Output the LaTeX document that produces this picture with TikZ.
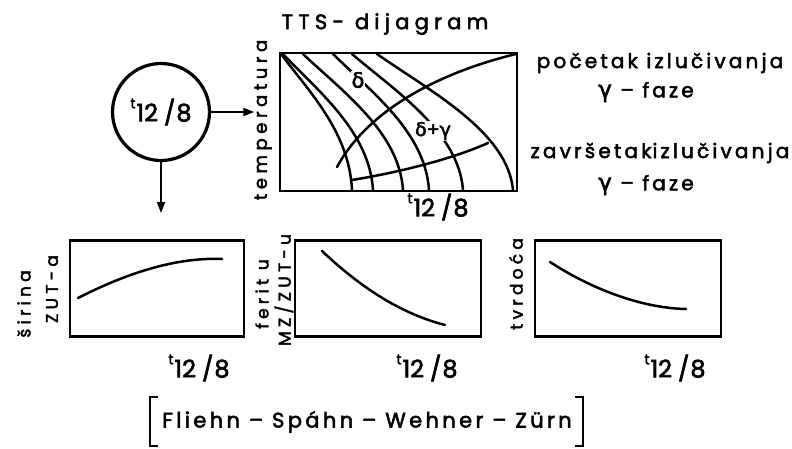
\documentclass[tikz,border=0pt]{standalone}
\usepackage{fontspec}
\setmainfont{Poppins}[LetterSpace=25,FakeBold=2.5]
\newfontfamily\tight{Poppins}[LetterSpace=16,FakeBold=2.5]
\newfontfamily\plain{Poppins}[FakeBold=2.5]
\newfontfamily\grk{DejaVu Sans}[FakeBold=2.5]
\usetikzlibrary{arrows.meta}
\newcommand\fs[1]{\fontsize{#1}{#1}\selectfont}
\newcommand\tlabel{\mbox{\raisebox{13pt}{\fs{14}t}\hspace{1pt}{\plain\fs{24}12\hspace{6pt}/\hspace{1pt}8}}}
\begin{document}
\begin{tikzpicture}[x=1pt,y=-1pt,line cap=round,
  frame/.style={draw,line width=2.4pt,inner sep=0pt},
  curve/.style={line width=2.5pt},
  lbl/.style={inner sep=0pt,font=\fs{18}},
  rtxt/.style={inner sep=0pt,font=\tight\fs{20}},
  arr/.style={line width=2pt,-{Triangle[length=11pt,width=8pt]}}]
\fill[white] (0,0) rectangle (792,448);
\useasboundingbox (0,0) rectangle (792,448);

% TTS diagram
\node[lbl,font=\fs{21}] (title) at (385,24) {TTS- dijagram};
\node[frame,minimum width=237pt,minimum height=138pt] (tts) at (398.5,122) {};
\node[lbl,rotate=90] (temp) at (263,120) {temperatura};
\draw[curve] (281,54) .. controls (309.4,92) and (349.2,132) .. (352,190);
\draw[curve] (283,54) .. controls (319,92) and (369.4,132) .. (373,190);
\draw[curve] (303,54) .. controls (343,92) and (399,132) .. (403,190);
\draw[curve] (333,54) .. controls (371.4,92) and (425.2,132) .. (429,190);
\draw[curve] (352,54) .. controls (396.4,92) and (458.6,132) .. (463,190);
\draw[curve] (377,54) .. controls (431.4,92) and (507.6,132) .. (513,190);
\draw[curve] (337,167) .. controls (365,115) and (430,75) .. (516,54);
\draw[curve] (352,180) .. controls (395,173) and (450,160) .. (488,143);
\node[fill=white,inner sep=1pt,font=\grk\fs{21}] (delta) at (358,80) {δ};
\node[fill=white,inner sep=0.5pt,font=\fs{19}] (dg) at (433,131) {{\grk δ}+{\grk γ}};
\node (t0) at (438,207) {\tlabel};

% right texts
\node[rtxt] (pocetak) at (660,63) {početak izlučivanja};
\node[rtxt] (gf1) at (646,92) {{\grk\fs{23}γ} – faze};
\node[rtxt] (zavrsetak) at (660,153) {završetak\hspace{1pt}izlučivanja};
\node[rtxt] (gf2) at (646,185) {{\grk\fs{23}γ} – faze};

% circle
\node[draw,circle,line width=3.2pt,minimum size=97pt,inner sep=0pt] (c) at (161,112) {\tlabel};
\coordinate (downend) at (161,213);
\draw[arr] (c.east) -- (c.east -| temp.north);
\draw[arr] (c.south) -- (downend);

% bottom boxes
\node[frame,minimum width=174pt,minimum height=96pt] (b1) at (157,288.5) {};
\node[frame,minimum width=186pt,minimum height=96pt] (b2) at (388,288.5) {};
\node[frame,minimum width=186pt,minimum height=96pt] (b3) at (628,288.5) {};
\draw[curve] (78,298) .. controls (125,274) and (175,257) .. (222,259);
\draw[curve] (322,251) .. controls (355,282) and (395,312) .. (445,325);
\draw[curve] (550,262) .. controls (590,288) and (640,308) .. (686,309);
\node[lbl,rotate=90,font=\fs{17}] (sirina) at (24,304) {širina};
\node[lbl,rotate=90,font=\fs{17}] (zuta) at (52,289) {ZUT-a};
\node[lbl,rotate=90,font=\fs{17}] (ferit) at (262,294) {ferit u};
\node[lbl,rotate=90,font=\fs{17}] (mz) at (284,290) {MZ/ZUT-u};
\node[lbl,rotate=90,font=\fs{17}] (tvrd) at (516,284) {tvrdoća};
\node (t1) at (199,368) {\tlabel};
\node (t2) at (427,368) {\tlabel};
\node (t3) at (675,368) {\tlabel};

% citation
\node[font=\tight\fs{21}] (cite) at (367,422) {Fliehn – Spáhn – Wehner – Zürn};
\coordinate (lbt) at (150,397);
\coordinate (lbb) at (150,446);
\coordinate (rbt) at (583,397);
\coordinate (rbb) at (583,446);
\draw[line width=2.4pt,line cap=butt] ([xshift=8pt]lbt) -- (lbt) -- (lbb) -- ([xshift=8pt]lbb);
\draw[line width=2.4pt,line cap=butt] ([xshift=-8pt]rbt) -- (rbt) -- (rbb) -- ([xshift=-8pt]rbb);
\end{tikzpicture}
\end{document}
